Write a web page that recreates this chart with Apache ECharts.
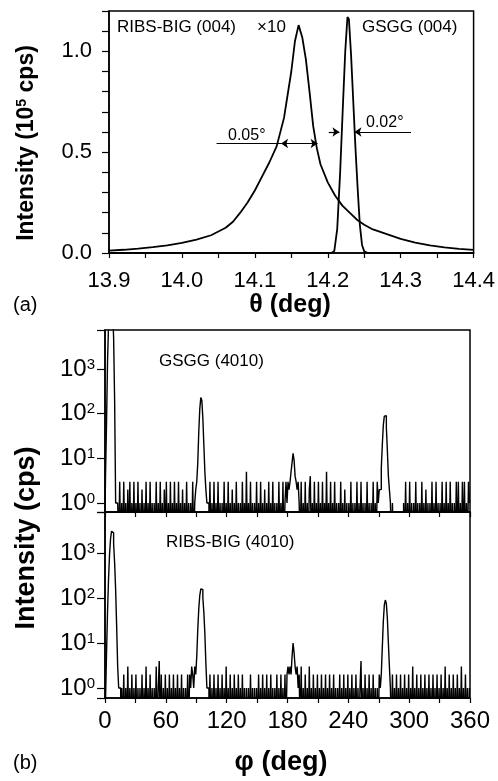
<!DOCTYPE html>
<html><head><meta charset="utf-8">
<script src="https://cdn.jsdelivr.net/npm/echarts@6/dist/echarts.min.js"></script>
<style>html,body{margin:0;padding:0;background:#fff}#c{width:498px;height:781px}</style>
</head><body><div id="c"></div>
<script>
const FONT = '"Liberation Sans", Arial, sans-serif';

// (a) theta scan, RIBS-BIG (004) x10
const thetaRibs = [13.90,13.92,13.94,13.96,13.98,14.00,14.02,14.04,14.06,14.07,14.08,14.09,14.10,14.11,14.12,14.13,14.14,14.15,14.155,14.16,14.165,14.17,14.175,14.18,14.185,14.19,14.20,14.21,14.22,14.23,14.24,14.25,14.26,14.28,14.30,14.32,14.34,14.36,14.38,14.40];
const intRibs   = [0.012,0.016,0.022,0.029,0.038,0.050,0.066,0.088,0.125,0.155,0.20,0.25,0.31,0.38,0.45,0.53,0.67,0.90,1.05,1.13,1.07,0.96,0.80,0.63,0.52,0.44,0.35,0.285,0.235,0.20,0.165,0.14,0.12,0.095,0.07,0.052,0.038,0.028,0.02,0.015];
// (a) GSGG (004)
const thetaGsgg = [13.90,14.205,14.209,14.213,14.217,14.221,14.224,14.227,14.229,14.232,14.235,14.238,14.241,14.244,14.247,14.25,14.255,14.40];
const intGsgg   = [0,0,0.01,0.12,0.40,0.75,1.0,1.17,1.16,0.98,0.75,0.52,0.32,0.14,0.04,0.008,0,0];

// (b) phi scans, counts per degree starting at phi = 0
const phiStart = 0, phiStep = 1;
const countsGsgg = [
0.5,4,60,1500,10000,30000,44000,40000,20000,5000,
200,1,1,1,0,3,0,1,0,3,
0,1,0,2,0,3,0,1,0,3,
0,1,0,3,0,1,0,2,0,1,
0,3,0,1,0,3,0,1,0,1,
0,3,0,1,0,3,0,1,0,2,
0,3,0,1,0,3,0,1,0,3,
0,1,0,3,0,1,0,2,0,1,
0,3,0,1,0,1,0,3,0,1,
2,3,8,40,130,230,200,80,20,5,
2,1,1,0,3,0,1,0,3,0,
1,0,3,0,1,0,1,0,3,0,
1,0,3,0,1,0,2,0,1,0,
3,0,1,0,1,0,3,0,1,0,
5,0,1,0,3,0,1,0,1,0,
3,0,1,0,3,0,1,0,2,0,
1,0,3,0,1,0,3,0,1,0,
1,0,3,0,1,0,3,0,1,3,
1,3,2,3,5,8,13,9,4,3,
2,3,1,0,3,0,1,0,3,0,
1,0,2,4,0,1,0,3,0,1,
0,3,0,1,0,3,0,1,0,5,
0,1,0,3,0,1,0,3,0,1,
0,1,0,3,0,1,0,2,0,1,
0,1,0,3,0,1,0,1,0,3,
0,1,0,3,0,1,0,1,0,3,
0,1,0,1,0,3,0,1,0,3,
1,2,2,6,20,55,88,90,50,15,
4,2,1,0,1,0,0,0,0,0,
0,0,0,0,0,1,0,3,0,1,
0,3,0,1,0,1,0,3,0,1,
0,1,0,3,0,1,0,2,0,1,
0,1,0,3,0,1,0,3,0,1,
0,1,0,3,0,1,0,3,0,1,
0,3,0,1,0,1,0,3,0,3,
0,1,0,3,0,3,0,1,0,3,
1];
const countsRibs = [
0,0.5,6,50,270,950,2100,3050,2800,1600,
600,150,23,3,1,1,0,1,0,2,
0,1,0,3,0,1,0,2,0,1,
0,2,0,1,0,1,0,2,0,1,
0,3,0,1,0,2,0,1,0,1,
0,3,0,1,4,0,2,0,1,0,
2,0,1,0,2,0,1,0,2,0,
1,0,2,0,1,0,2,0,1,0,
1,0,2,0,2,1,3,2,1,3,
2,5,20,58,115,160,154,103,48,16,
3.5,1,1,0,2,0,1,0,2,0,
1,0,2,0,1,0,2,0,1,0,
3,0,1,0,2,0,1,0,2,0,
1,0,2,0,1,0,2,0,1,0,
1,0,1,0,2,0,1,0,1,0,
1,0,2,0,1,0,2,0,1,0,
2,0,1,0,2,0,1,0,1,0,
2,0,1,0,2,0,1,0,2,0,
2,3,2,3,2,5,10,6,3,2,
3,1,2,0,3,0,1,0,2,0,
1,0,3,0,1,0,2,0,1,0,
2,0,1,0,2,0,1,0,2,0,
1,0,2,0,1,0,2,0,1,0,
1,0,2,0,1,0,2,0,1,0,
2,0,1,0,2,0,1,0,2,0,
1,0,1,4,0,1,0,2,0,1,
0,2,0,1,0,2,0,1,0,1,
0,2,1,2,8,30,70,90,75,35,
10,3,1,0,2,0,1,0,2,0,
1,0,2,0,1,0,2,0,1,0,
2,0,1,0,3,0,1,0,2,0,
1,0,2,0,1,0,2,0,1,0,
2,0,1,0,2,0,1,0,2,0,
1,0,2,0,1,0,3,0,1,0,
2,0,1,0,2,0,1,0,2,0,
1,0,3,0,1,0,2,0,1,0,
1];

const thetaTickLabels = ['13.9','14.0','14.1','14.2','14.3','14.4'];
const intTickLabels = ['0.0','0.5','1.0'];
const phiTickLabels = ['0','60','120','180','240','300','360'];

const zip = (xs, ys) => xs.map((x, i) => [x, ys[i]]);
const ZERO_FLOOR = 0.1; // zero counts sit below the log axis floor
const phiSeries = c => c.map((v, i) => [phiStart + i * phiStep, v > 0 ? v : ZERO_FLOOR]);

const black = '#000';
const axisLine = {show: true, lineStyle: {color: black, width: 1.5}};
const tickStyle = {color: black, width: 1.2};
function powLabel(v) {
  const l = Math.log10(v), r = Math.round(l);
  if (Math.abs(l - r) > 1e-6) return '';
  return '{b|10}{s|' + r + '}';
}
const powRich = {
  b: {fontSize: 24, fontFamily: FONT, color: black},
  s: {fontSize: 15, fontFamily: FONT, color: black, verticalAlign: 'top'}
};
const gridBase = {show: true, borderColor: black, borderWidth: 1.5, backgroundColor: 'transparent'};

const chart = echarts.init(document.getElementById('c'));
chart.setOption({
  animation: false,
  backgroundColor: '#fff',
  grid: [
    Object.assign({left: 109, top: 11, width: 365, height: 242}, gridBase),
    Object.assign({left: 105, top: 330, width: 365, height: 182}, gridBase),
    Object.assign({left: 105, top: 512, width: 365, height: 186}, gridBase)
  ],
  xAxis: [
    {type: 'value', gridIndex: 0, min: 13.9, max: 14.4, interval: 0.1,
     axisLine, axisTick: {show: true, length: 5, lineStyle: tickStyle},
     minorTick: {show: true, splitNumber: 2, length: 5, lineStyle: tickStyle},
     splitLine: {show: false},
     axisLabel: {fontSize: 22, fontFamily: FONT, color: black, margin: 17,
       formatter: v => { const s = v.toFixed(1); return thetaTickLabels.includes(s) ? s : ''; }}},
    {type: 'value', gridIndex: 1, min: 0, max: 360, interval: 60,
     axisLine, axisTick: {show: true, length: 5, lineStyle: tickStyle},
     minorTick: {show: true, splitNumber: 2, length: 5, lineStyle: tickStyle},
     splitLine: {show: false}, axisLabel: {show: false}},
    {type: 'value', gridIndex: 2, min: 0, max: 360, interval: 60,
     axisLine, axisTick: {show: true, length: 5, lineStyle: tickStyle},
     minorTick: {show: true, splitNumber: 2, length: 5, lineStyle: tickStyle},
     splitLine: {show: false},
     axisLabel: {fontSize: 24, fontFamily: FONT, color: black, margin: 11,
       formatter: v => { const s = String(Math.round(v)); return phiTickLabels.includes(s) ? s : ''; }}}
  ],
  yAxis: [
    {type: 'value', gridIndex: 0, min: 0, max: 1.2, interval: 0.1,
     axisLine, axisTick: {show: true, length: 7, lineStyle: tickStyle},
     splitLine: {show: false},
     axisLabel: {fontSize: 22, fontFamily: FONT, color: black, margin: 17,
       formatter: v => { const s = v.toFixed(1); return intTickLabels.includes(s) ? s : ''; }}},
    {type: 'log', logBase: 10, gridIndex: 1, min: 0.63, max: 7464,
     axisLine, axisTick: {show: true, length: 8, lineStyle: tickStyle},
     splitLine: {show: false},
     axisLabel: {margin: 10, formatter: powLabel, rich: powRich}},
    {type: 'log', logBase: 10, gridIndex: 2, min: 0.6, max: 8147,
     axisLine, axisTick: {show: true, length: 8, lineStyle: tickStyle},
     splitLine: {show: false},
     axisLabel: {margin: 10, formatter: powLabel, rich: powRich}}
  ],
  series: [
    {type: 'line', xAxisIndex: 0, yAxisIndex: 0, data: zip(thetaRibs, intRibs),
     symbol: 'none', lineStyle: {color: black, width: 1.8}},
    {type: 'line', xAxisIndex: 0, yAxisIndex: 0, data: zip(thetaGsgg, intGsgg),
     symbol: 'none', lineStyle: {color: black, width: 1.8},
     markLine: {
       silent: true, symbol: ['none', 'none'], symbolSize: 7,
       label: {show: false}, lineStyle: {color: black, width: 1.2, type: 'solid'},
       emphasis: {disabled: true},
       data: [
         [{coord: [14.0475, 0.543]}, {coord: [14.136, 0.543]}],
         [{coord: [14.136, 0.543], symbol: 'arrow'}, {coord: [14.186, 0.543], symbol: 'arrow'}],
         [{coord: [14.2014, 0.60]}, {coord: [14.216, 0.60], symbol: 'arrow'}],
         [{coord: [14.3142, 0.60]}, {coord: [14.2366, 0.60], symbol: 'arrow'}]
       ]
     }},
    {type: 'line', xAxisIndex: 1, yAxisIndex: 1, data: phiSeries(countsGsgg), step: 'middle',
     symbol: 'none', clip: true, lineStyle: {color: black, width: 1.4}},
    {type: 'line', xAxisIndex: 2, yAxisIndex: 2, data: phiSeries(countsRibs), step: 'middle',
     symbol: 'none', clip: true, lineStyle: {color: black, width: 1.4}}
  ],
  graphic: [
    {type: 'text', x: 117, y: 27, style: {text: 'RIBS-BIG (004)', font: '17px ' + FONT, fill: black, verticalAlign: 'middle'}},
    {type: 'text', x: 257, y: 27, style: {text: '×10', font: '17px ' + FONT, fill: black, verticalAlign: 'middle'}},
    {type: 'text', x: 362, y: 27, style: {text: 'GSGG (004)', font: '17px ' + FONT, fill: black, verticalAlign: 'middle'}},
    {type: 'text', x: 228, y: 136, style: {text: '0.05°', font: '16px ' + FONT, fill: black, verticalAlign: 'middle'}},
    {type: 'text', x: 366, y: 123, style: {text: '0.02°', font: '16px ' + FONT, fill: black, verticalAlign: 'middle'}},
    {type: 'text', x: 159, y: 361, style: {text: 'GSGG (4010)', font: '17px ' + FONT, fill: black, verticalAlign: 'middle'}},
    {type: 'text', x: 166, y: 542, style: {text: 'RIBS-BIG (4010)', font: '17px ' + FONT, fill: black, verticalAlign: 'middle'}},
    {type: 'text', x: 13, y: 305, style: {text: '(a)', font: '20px ' + FONT, fill: black, verticalAlign: 'middle'}},
    {type: 'text', x: 13, y: 763, style: {text: '(b)', font: '20px ' + FONT, fill: black, verticalAlign: 'middle'}},
    {type: 'text', x: 290, y: 305, style: {text: 'θ (deg)', font: 'bold 25px ' + FONT, fill: black, align: 'center', verticalAlign: 'middle'}},
    {type: 'text', x: 281, y: 763, style: {text: 'φ (deg)', font: 'bold 27px ' + FONT, fill: black, align: 'center', verticalAlign: 'middle'}},
    {type: 'text', x: 27, y: 143, rotation: Math.PI / 2,
     style: {text: '{a|Intensity (10}{s|5}{a| cps)}', fill: black, align: 'center', verticalAlign: 'middle',
       rich: {a: {fontSize: 23, fontWeight: 'bold', fontFamily: FONT, fill: black},
              s: {fontSize: 14, fontWeight: 'bold', fontFamily: FONT, fill: black, verticalAlign: 'top'}}}},
    {type: 'text', x: 27, y: 538, rotation: Math.PI / 2,
     style: {text: 'Intensity (cps)', font: 'bold 27px ' + FONT, fill: black, align: 'center', verticalAlign: 'middle'}}
  ]
});
</script></body></html>
